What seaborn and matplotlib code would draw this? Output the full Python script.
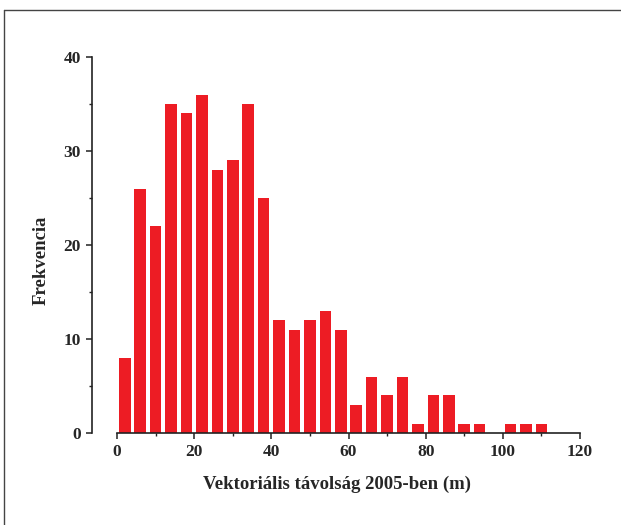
import numpy as np
import matplotlib
matplotlib.use("Agg")
import matplotlib.pyplot as plt
import seaborn as sns
from matplotlib.ticker import MultipleLocator
from matplotlib.lines import Line2D

# bin centres (m) and counts (4 m bins)
bin_centers = [2, 6, 10, 14, 18, 22, 26, 30, 34, 38, 42, 46, 50, 54, 58,
               62, 66, 70, 74, 78, 82, 86, 90, 94, 98, 102, 106, 110]
counts = [8, 26, 22, 35, 34, 36, 28, 29, 35, 25, 12, 11, 12, 13, 11,
          3, 6, 4, 6, 1, 4, 4, 1, 1, 0, 1, 1, 1]
bin_edges = list(range(0, 116, 4))

sns.set_style("ticks")
plt.rcParams["font.family"] = ["Liberation Serif", "DejaVu Serif"]

fig = plt.figure(figsize=(6.21, 5.25), dpi=100)
ax = fig.add_axes([117 / 621, 1 - 433 / 525, (580 - 117) / 621, (433 - 57) / 525])

sns.histplot(x=bin_centers, weights=counts, bins=bin_edges, shrink=0.75,
             color="#ED1C24", edgecolor="none", alpha=1, ax=ax)

ax.set_xlim(0, 120)
ax.set_ylim(0, 40)
ax.xaxis.set_major_locator(MultipleLocator(20))
ax.xaxis.set_minor_locator(MultipleLocator(10))
ax.yaxis.set_major_locator(MultipleLocator(10))
ax.yaxis.set_minor_locator(MultipleLocator(5))

sns.despine(ax=ax)
ax.spines["left"].set_position(("outward", 18))
for s in ["left", "bottom"]:
    ax.spines[s].set_color("#222222")
    ax.spines[s].set_linewidth(1.2)

ax.tick_params(which="major", direction="out", length=4, width=1.1,
               color="#222222", labelsize=12.5, pad=4)
ax.tick_params(which="minor", direction="out", length=2.5, width=1,
               color="#222222")
for lbl in ax.get_xticklabels() + ax.get_yticklabels():
    lbl.set_fontweight("bold")

ax.set_xlabel("Vektoriális távolság 2005-ben (m)", fontsize=13.5,
              fontweight="bold")
ax.set_ylabel("Frekvencia", fontsize=13.5, fontweight="bold")
ax.xaxis.set_label_coords(0.475, -0.113)
ax.yaxis.set_label_coords(-0.145, 0.46)

# thin frame at top and left of the picture
fig.add_artist(Line2D([4 / 621, 1], [1 - 10 / 525, 1 - 10 / 525],
                      transform=fig.transFigure, color="#444444", lw=1))
fig.add_artist(Line2D([4 / 621, 4 / 621], [0, 1 - 10 / 525],
                      transform=fig.transFigure, color="#444444", lw=1))

fig.savefig("out.png", dpi=100)
